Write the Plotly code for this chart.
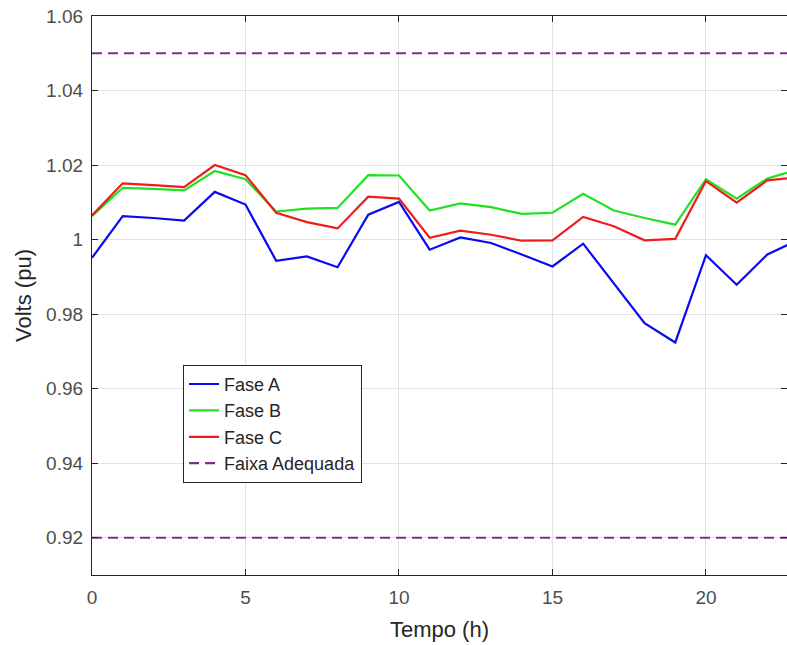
import plotly.graph_objects as go

# Hourly bus voltage per phase (pu)
hours = list(range(24))
fase_a = [0.9951, 1.0063, 1.0058, 1.0051, 1.0128, 1.0094, 0.9943, 0.9955, 0.9926, 1.0067,
          1.0101, 0.9973, 1.0006, 0.9991, 0.9960, 0.9928, 0.9989, 0.9883, 0.9776, 0.9724,
          0.9958, 0.9879, 0.9960, 0.9999]
fase_b = [1.0063, 1.0139, 1.0136, 1.0132, 1.0184, 1.0162, 1.0075, 1.0083, 1.0085, 1.0173,
          1.0172, 1.0078, 1.0097, 1.0087, 1.0069, 1.0072, 1.0123, 1.0078, 1.0058, 1.0040,
          1.0162, 1.0110, 1.0164, 1.0188]
fase_c = [1.0065, 1.0151, 1.0146, 1.0141, 1.0200, 1.0173, 1.0072, 1.0047, 1.0030, 1.0115,
          1.0110, 1.0005, 1.0024, 1.0013, 0.9997, 0.9998, 1.0061, 1.0036, 0.9998, 1.0002,
          1.0157, 1.0099, 1.0159, 1.0167]

# Adequate voltage band limits (pu)
limite_superior = 1.05
limite_inferior = 0.92

y_ticks = [0.92, 0.94, 0.96, 0.98, 1.00, 1.02, 1.04, 1.06]
y_tick_labels = ["0.92", "0.94", "0.96", "0.98", "1", "1.02", "1.04", "1.06"]
x_ticks = [0, 5, 10, 15, 20]

FONT = "Liberation Sans, Arial, sans-serif"
PURPLE = "#7e2f8e"

fig = go.Figure()
fig.add_trace(go.Scatter(x=hours, y=fase_a, mode="lines", name="Fase A",
                         line=dict(color="#0a0af0", width=2.2)))
fig.add_trace(go.Scatter(x=hours, y=fase_b, mode="lines", name="Fase B",
                         line=dict(color="#22e022", width=2.2)))
fig.add_trace(go.Scatter(x=hours, y=fase_c, mode="lines", name="Fase C",
                         line=dict(color="#ee1c1c", width=2.2)))
fig.add_trace(go.Scatter(x=[hours[0], hours[-1]], y=[limite_superior] * 2, mode="lines",
                         name="Faixa Adequada",
                         line=dict(color=PURPLE, width=2.2, dash="10px,6px")))
fig.add_trace(go.Scatter(x=[hours[0], hours[-1]], y=[limite_inferior] * 2, mode="lines",
                         name="Faixa Adequada", showlegend=False,
                         line=dict(color=PURPLE, width=2.2, dash="10px,6px")))

axis_common = dict(
    showline=True, linecolor="#262626", linewidth=1.2, mirror="ticks",
    ticks="inside", ticklen=6, tickcolor="#262626",
    showgrid=True, gridcolor="#e3e3e3", gridwidth=1, zeroline=False,
    tickfont=dict(family=FONT, size=19, color="#4d4d4d"),
)

fig.update_layout(
    width=787, height=645,
    margin=dict(l=92, r=0, t=16, b=70),
    paper_bgcolor="white", plot_bgcolor="white",
    font=dict(family=FONT, color="#262626"),
    xaxis=dict(range=[0, 22.64], tickvals=x_ticks, ticklabelstandoff=5,
               title=dict(text="Tempo (h)", font=dict(family=FONT, size=22, color="#262626"),
                          standoff=14),
               **axis_common),
    yaxis=dict(range=[0.91, 1.06], tickvals=y_ticks, ticktext=y_tick_labels,
               ticklabelstandoff=4,
               title=dict(text="Volts (pu)", font=dict(family=FONT, size=22, color="#262626"),
                          standoff=8),
               **axis_common),
    legend=dict(x=0.131, y=0.376, xanchor="left", yanchor="top",
                bgcolor="white", bordercolor="#262626", borderwidth=1,
                font=dict(family=FONT, size=18, color="#262626"),
                itemwidth=30),
    showlegend=True,
)

fig.write_html("out.html")
